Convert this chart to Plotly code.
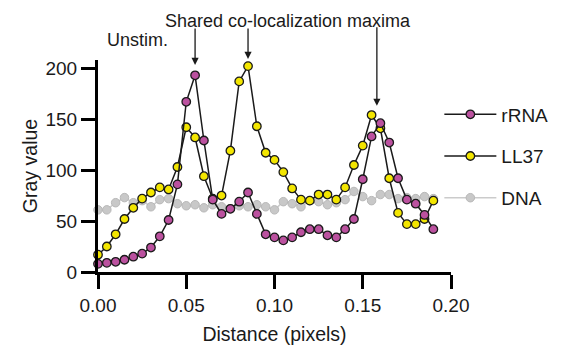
import plotly.graph_objects as go

# ---- data ----
distance = [0.000, 0.005, 0.010, 0.015, 0.020, 0.025, 0.030, 0.035, 0.040, 0.045,
            0.050, 0.055, 0.060, 0.065, 0.070, 0.075, 0.080, 0.085, 0.090, 0.095,
            0.100, 0.105, 0.110, 0.115, 0.120, 0.125, 0.130, 0.135, 0.140, 0.145,
            0.150, 0.155, 0.160, 0.165, 0.170, 0.175, 0.180, 0.185, 0.190]

rrna = [8, 9, 10, 12, 15, 18, 24, 35, 51, 86,
        167, 193, 129, 71, 57, 62, 69, 78, 57, 37,
        34, 31, 34, 39, 42, 42, 36, 34, 42, 52,
        91, 133, 146, 127, 92, 71, 67, 56, 42]

ll37 = [17, 25, 37, 52, 63, 72, 78, 83, 81, 103,
        142, 132, 94, 72, 75, 119, 187, 202, 143, 117,
        110, 98, 82, 71, 70, 76, 76, 71, 83, 105,
        124, 154, 141, 92, 58, 47, 47, 52, 70]

dna = [61, 61, 68, 73, 68, 70, 64, 71, 72, 67,
       65, 66, 63, 66, 64, 62, 65, 64, 66, 64,
       61, 69, 67, 64, 70, 69, 66, 68, 71, 79,
       74, 70, 76, 76, 72, 73, 72, 74, 72]

series_names = ["rRNA", "LL37", "DNA"]
x_ticks = [0.00, 0.05, 0.10, 0.15, 0.20]
x_tick_labels = ["0.00", "0.05", "0.10", "0.15", "0.20"]
y_ticks = [0, 50, 100, 150, 200]
y_tick_labels = ["0", "50", "100", "150", "200"]
arrow_x = [0.055, 0.085, 0.158]          # shared co-localization maxima
arrow_tip_paper_y = [0.977, 1.005, 0.784]
arrow_len_px = [38, 32, 80]

FONT = "Liberation Sans, Arial, Helvetica, sans-serif"
PINK = "#bb519f"
YELLOW = "#f3e600"
GRAY_FILL = "#c8c8c8"
GRAY_EDGE = "#b8b8b8"
INK = "#1a1a1a"

fig = go.Figure()

fig.add_trace(go.Scatter(
    x=distance, y=dna, name=series_names[2], mode="lines+markers",
    legendgroup="dna", legendrank=3, cliponaxis=False,
    line=dict(color="#cbcbcb", width=1.6),
    marker=dict(size=8.5, color=GRAY_FILL, line=dict(color=GRAY_EDGE, width=1))))

fig.add_trace(go.Scatter(
    x=distance, y=ll37, name=series_names[1], mode="lines+markers",
    legendgroup="ll37", legendrank=2, cliponaxis=False,
    line=dict(color=INK, width=1.5),
    marker=dict(size=8.5, color=YELLOW, line=dict(color=INK, width=1.3))))

fig.add_trace(go.Scatter(
    x=distance, y=rrna, name=series_names[0], mode="lines+markers",
    legendgroup="rrna", legendrank=1, cliponaxis=False,
    line=dict(color=INK, width=1.5),
    marker=dict(size=8.5, color=PINK, line=dict(color=INK, width=1.3))))

annotations = [
    dict(text="Unstim.", xref="paper", yref="paper", x=0.112, y=1.095,
         showarrow=False, xanchor="center", yanchor="middle",
         font=dict(family=FONT, size=18, color=INK)),
    dict(text="Shared co-localization maxima", xref="paper", yref="paper",
         x=0.538, y=1.185, showarrow=False, xanchor="center", yanchor="middle",
         font=dict(family=FONT, size=18, color=INK)),
]
for ax_, tip_, len_ in zip(arrow_x, arrow_tip_paper_y, arrow_len_px):
    annotations.append(dict(
        text="", xref="x", yref="paper", x=ax_, y=tip_,
        ax=0, ay=-len_, showarrow=True, arrowhead=2, arrowsize=1.1,
        arrowwidth=1.3, arrowcolor=INK, standoff=0, startstandoff=0))

# the page body has an 8px default margin, so the figure is sized to fit the
# 565x354 window from that offset
fig.update_layout(
    width=557, height=346,
    margin=dict(l=90, r=103, t=52, b=78, pad=0),
    paper_bgcolor="white", plot_bgcolor="white",
    font=dict(family=FONT, size=19, color=INK),
    showlegend=True,
    legend=dict(x=0.967, xanchor="left", y=0.545, yanchor="middle",
                traceorder="grouped", tracegroupgap=14,
                font=dict(family=FONT, size=19, color=INK),
                bgcolor="rgba(0,0,0,0)", itemwidth=52),
    annotations=annotations,
)

fig.update_xaxes(
    range=[0, 0.2], tickvals=x_ticks, ticktext=x_tick_labels,
    showline=True, linecolor="black", linewidth=3,
    ticks="outside", ticklen=14, tickwidth=3, tickcolor="black",
    showgrid=False, zeroline=False,
    tickfont=dict(family=FONT, size=19, color=INK),
    title=dict(text="Distance (pixels)", standoff=13,
               font=dict(family=FONT, size=19.5, color=INK)))

fig.update_yaxes(
    range=[0, 208], tickvals=y_ticks, ticktext=y_tick_labels,
    showline=True, linecolor="black", linewidth=3,
    ticks="outside", ticklen=14, tickwidth=3, tickcolor="black",
    showgrid=False, zeroline=False,
    tickfont=dict(family=FONT, size=19, color=INK),
    title=dict(text="Gray value", standoff=3,
               font=dict(family=FONT, size=19.5, color=INK)))

fig.write_html("out.html")
